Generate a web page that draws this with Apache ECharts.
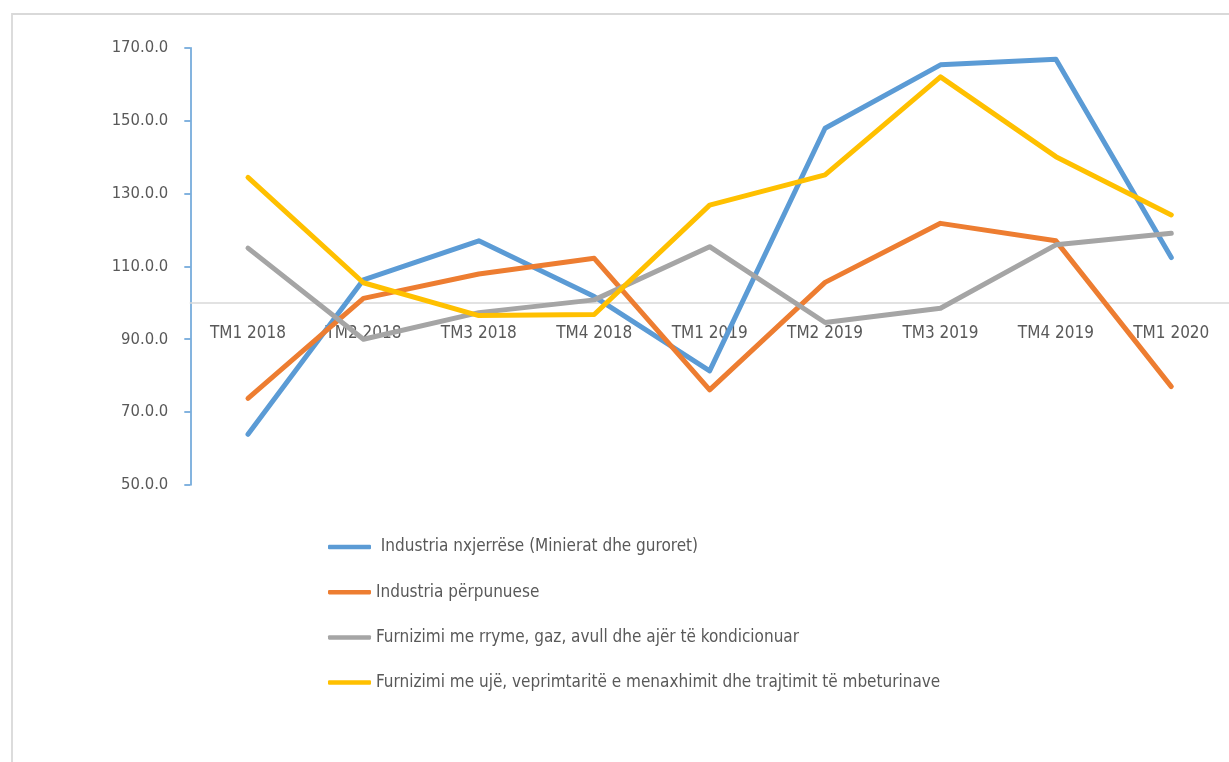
<!DOCTYPE html>
<html>
<head>
<meta charset="utf-8">
<script src="https://cdn.jsdelivr.net/npm/echarts@6/dist/echarts.min.js"></script>
<style>
html,body{margin:0;padding:0;background:#fff;}
#main{width:1229px;height:762px;}
</style>
</head>
<body>
<div id="main"></div>
<script>
const categories = ['TM1 2018','TM2 2018','TM3 2018','TM4 2018','TM1 2019','TM2 2019','TM3 2019','TM4 2019','TM1 2020'];
const seriesNames = [
  ' Industria nxjerrëse (Minierat dhe guroret)',
  'Industria përpunuese',
  'Furnizimi me rryme, gaz, avull dhe ajër të kondicionuar',
  'Furnizimi me ujë, veprimtaritë e menaxhimit dhe trajtimit të mbeturinave'
];
const extractive = [63.9, 106.3, 117.0, 101.7, 81.3, 147.9, 165.3, 166.8, 112.4];
const manufacturing = [73.8, 101.2, 107.9, 112.2, 76.1, 105.6, 121.8, 117.0, 77.0];
const electricity = [115.0, 90.0, 97.3, 100.8, 115.4, 94.6, 98.5, 115.9, 119.1];
const water = [134.4, 105.5, 96.5, 96.8, 126.8, 135.1, 162.0, 140.1, 124.1];
const yTicks = [50, 70, 90, 110, 130, 150, 170];
const yTickLabels = ['50.0.0','70.0.0','90.0.0','110.0.0','130.0.0','150.0.0','170.0.0'];
const baseLine = 100;

const colors = ['#5B9BD5','#ED7D31','#A5A5A5','#FFC000'];
const FONT = "'Liberation Sans Narrow', 'DejaVu Sans Condensed', 'Liberation Sans', sans-serif";
const values = [extractive, manufacturing, electricity, water];

const chart = echarts.init(document.getElementById('main'), null, {renderer:'canvas'});
const gridTop = 47.7, gridBottomY = 485;
const yMin = 50, yMax = 170;
const pxPerUnit = (gridBottomY - gridTop) / (yMax - yMin);

chart.setOption({
  animation: false,
  backgroundColor: '#fff',
  graphic: [{
    type: 'rect', left: 9.5, top: 11.5, silent: true,
    shape: {x: 0, y: 0, width: 1260, height: 800},
    style: {fill: 'none', stroke: '#D9D9D9', lineWidth: 1.8}
  }],
  grid: {left: 190.3, top: gridTop, width: 1044, height: gridBottomY - gridTop},
  legend: {
    orient: 'vertical', left: 328, top: 537, padding: 0,
    itemWidth: 43, itemHeight: 4.5, itemGap: 25.2,
    icon: 'roundRect',
    textStyle: {color: '#595959', fontSize: 17, fontFamily: FONT, lineHeight: 20},
    data: seriesNames
  },
  xAxis: {
    type: 'category', data: categories, boundaryGap: true,
    offset: -(baseLine - yMin) * pxPerUnit,
    axisLine: {show: true, lineStyle: {color: '#D9D9D9', width: 1.5}},
    axisTick: {show: false},
    axisLabel: {interval: 0, color: '#595959', fontSize: 17, fontFamily: FONT, margin: 22}
  },
  yAxis: {
    type: 'value', min: yMin, max: yMax,
    splitLine: {show: false},
    axisLine: {show: true, lineStyle: {color: '#5B9BD5', width: 1.5}},
    axisTick: {show: true, length: 6, customValues: yTicks, lineStyle: {color: '#5B9BD5', width: 1.5}},
    axisLabel: {
      customValues: yTicks, color: '#595959', fontSize: 16.5, fontFamily: FONT, margin: 22,
      formatter: v => yTickLabels[yTicks.indexOf(v)]
    }
  },
  series: values.map((d, i) => ({
    type: 'line', name: seriesNames[i], data: d,
    showSymbol: false, symbol: 'none',
    color: colors[i],
    lineStyle: {width: 5, color: colors[i], cap: 'round', join: 'round'},
    itemStyle: {color: colors[i]}
  }))
});
</script>
</body>
</html>
